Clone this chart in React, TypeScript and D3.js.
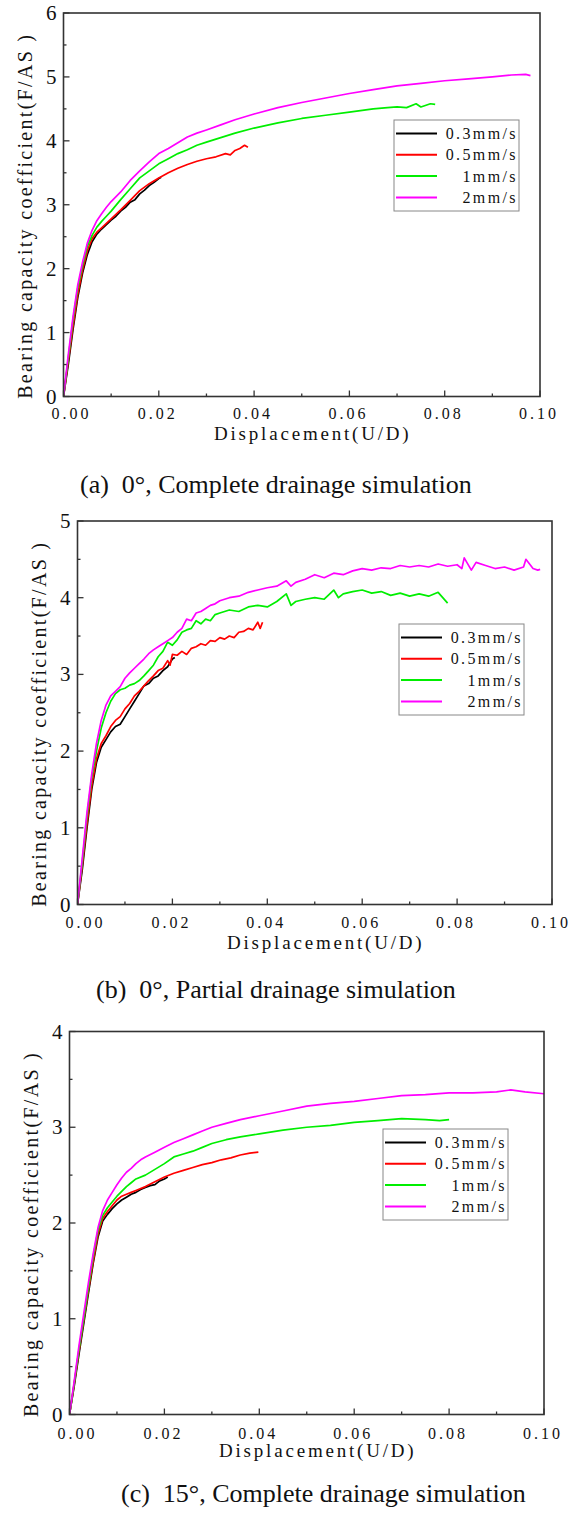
import React from "react";
import * as d3 from "d3";

type Pt = [number, number];

// ---------- Panel (a): 0°, complete drainage ----------
const a_03: Pt[] = [[0,0],[0.001,0.5],[0.002,1.05],[0.003,1.55],[0.004,1.93],[0.005,2.22],[0.006,2.42],[0.007,2.54],[0.008,2.62],[0.009,2.69],[0.010,2.76],[0.011,2.82],[0.012,2.9],[0.013,2.96],[0.014,3.04],[0.015,3.08],[0.016,3.17],[0.017,3.23],[0.018,3.3],[0.019,3.35],[0.020,3.41],[0.0205,3.43]];
const a_05: Pt[] = [[0,0],[0.001,0.55],[0.002,1.1],[0.003,1.6],[0.004,1.98],[0.005,2.28],[0.006,2.47],[0.007,2.57],[0.008,2.64],[0.009,2.71],[0.010,2.78],[0.012,2.92],[0.014,3.07],[0.016,3.22],[0.018,3.33],[0.020,3.42],[0.022,3.5],[0.024,3.57],[0.026,3.63],[0.028,3.68],[0.030,3.72],[0.032,3.75],[0.034,3.8],[0.035,3.78],[0.036,3.85],[0.037,3.88],[0.038,3.93],[0.0387,3.9]];
const a_1: Pt[] = [[0,0],[0.001,0.6],[0.002,1.2],[0.003,1.7],[0.004,2.05],[0.005,2.35],[0.006,2.52],[0.007,2.65],[0.008,2.74],[0.009,2.82],[0.010,2.9],[0.012,3.08],[0.014,3.25],[0.016,3.42],[0.018,3.53],[0.020,3.64],[0.022,3.72],[0.024,3.8],[0.026,3.86],[0.028,3.93],[0.030,3.98],[0.033,4.05],[0.036,4.12],[0.040,4.2],[0.045,4.28],[0.050,4.35],[0.055,4.4],[0.060,4.45],[0.065,4.5],[0.068,4.52],[0.070,4.53],[0.072,4.52],[0.074,4.58],[0.075,4.53],[0.077,4.58],[0.078,4.57]];
const a_2: Pt[] = [[0,0],[0.001,0.65],[0.002,1.25],[0.003,1.75],[0.004,2.1],[0.005,2.4],[0.006,2.6],[0.007,2.75],[0.008,2.86],[0.009,2.96],[0.010,3.05],[0.012,3.2],[0.014,3.38],[0.016,3.53],[0.018,3.67],[0.020,3.8],[0.022,3.88],[0.024,3.97],[0.026,4.06],[0.028,4.12],[0.030,4.17],[0.033,4.25],[0.036,4.33],[0.040,4.42],[0.045,4.52],[0.050,4.6],[0.055,4.67],[0.060,4.74],[0.065,4.8],[0.070,4.86],[0.075,4.9],[0.080,4.94],[0.085,4.97],[0.090,5.0],[0.094,5.03],[0.097,5.04],[0.098,5.02]];

// ---------- Panel (b): 0°, partial drainage ----------
const b_03: Pt[] = [[0,0],[0.001,0.45],[0.002,1.0],[0.003,1.5],[0.004,1.85],[0.005,2.05],[0.006,2.15],[0.007,2.25],[0.008,2.32],[0.009,2.35],[0.010,2.45],[0.011,2.55],[0.012,2.65],[0.013,2.75],[0.014,2.85],[0.015,2.88],[0.016,2.95],[0.017,2.98],[0.018,3.05],[0.019,3.1],[0.020,3.2],[0.0205,3.22]];
const b_05: Pt[] = [[0,0],[0.001,0.5],[0.002,1.05],[0.003,1.55],[0.004,1.9],[0.005,2.1],[0.006,2.2],[0.007,2.32],[0.008,2.4],[0.009,2.45],[0.010,2.55],[0.011,2.62],[0.012,2.72],[0.013,2.78],[0.014,2.85],[0.015,2.92],[0.016,2.98],[0.017,3.05],[0.018,3.08],[0.019,3.18],[0.0195,3.12],[0.020,3.26],[0.021,3.25],[0.022,3.3],[0.023,3.26],[0.024,3.34],[0.025,3.36],[0.026,3.4],[0.027,3.38],[0.028,3.44],[0.029,3.43],[0.030,3.48],[0.031,3.46],[0.032,3.5],[0.033,3.48],[0.034,3.55],[0.035,3.56],[0.036,3.6],[0.037,3.58],[0.038,3.68],[0.0385,3.6],[0.039,3.68]];
const b_1: Pt[] = [[0,0],[0.001,0.55],[0.002,1.15],[0.003,1.65],[0.004,2.0],[0.005,2.3],[0.006,2.5],[0.007,2.65],[0.008,2.75],[0.009,2.8],[0.010,2.82],[0.011,2.86],[0.012,2.88],[0.013,2.92],[0.014,2.98],[0.015,3.05],[0.016,3.12],[0.017,3.23],[0.018,3.3],[0.019,3.42],[0.020,3.38],[0.021,3.45],[0.022,3.55],[0.023,3.58],[0.024,3.6],[0.025,3.7],[0.026,3.66],[0.027,3.72],[0.028,3.7],[0.029,3.78],[0.030,3.8],[0.032,3.84],[0.034,3.82],[0.036,3.88],[0.038,3.9],[0.040,3.88],[0.042,3.95],[0.044,4.05],[0.045,3.9],[0.046,3.95],[0.048,3.98],[0.050,4.0],[0.052,3.98],[0.054,4.1],[0.055,4.0],[0.056,4.05],[0.058,4.08],[0.060,4.1],[0.062,4.06],[0.064,4.08],[0.066,4.03],[0.068,4.06],[0.070,4.02],[0.072,4.05],[0.074,4.02],[0.076,4.07],[0.078,3.93]];
const b_2: Pt[] = [[0,0],[0.001,0.6],[0.002,1.2],[0.003,1.7],[0.004,2.1],[0.005,2.4],[0.006,2.6],[0.007,2.72],[0.008,2.78],[0.009,2.84],[0.010,2.95],[0.011,3.02],[0.012,3.08],[0.013,3.14],[0.014,3.2],[0.015,3.27],[0.016,3.32],[0.017,3.36],[0.018,3.4],[0.019,3.44],[0.020,3.48],[0.021,3.55],[0.022,3.6],[0.023,3.72],[0.024,3.7],[0.025,3.8],[0.026,3.82],[0.027,3.86],[0.028,3.9],[0.029,3.92],[0.030,3.96],[0.032,4.0],[0.034,4.02],[0.036,4.07],[0.038,4.1],[0.040,4.13],[0.042,4.15],[0.044,4.22],[0.045,4.15],[0.046,4.2],[0.048,4.24],[0.050,4.3],[0.052,4.26],[0.054,4.32],[0.056,4.3],[0.058,4.35],[0.060,4.38],[0.062,4.36],[0.064,4.39],[0.066,4.38],[0.068,4.42],[0.070,4.4],[0.072,4.42],[0.074,4.4],[0.076,4.44],[0.078,4.41],[0.080,4.43],[0.081,4.38],[0.0815,4.52],[0.083,4.36],[0.084,4.46],[0.086,4.42],[0.088,4.38],[0.090,4.4],[0.092,4.36],[0.094,4.4],[0.0945,4.5],[0.096,4.38],[0.097,4.36],[0.0975,4.37]];

// ---------- Panel (c): 15°, complete drainage ----------
const c_03: Pt[] = [[0,0],[0.001,0.3],[0.002,0.63],[0.003,0.95],[0.004,1.27],[0.005,1.58],[0.006,1.85],[0.007,2.02],[0.008,2.09],[0.009,2.15],[0.010,2.2],[0.011,2.24],[0.012,2.27],[0.013,2.3],[0.014,2.32],[0.015,2.35],[0.016,2.37],[0.017,2.39],[0.018,2.4],[0.019,2.44],[0.020,2.46],[0.0207,2.48]];
const c_05: Pt[] = [[0,0],[0.001,0.32],[0.002,0.66],[0.003,0.98],[0.004,1.3],[0.005,1.6],[0.006,1.88],[0.007,2.05],[0.008,2.12],[0.009,2.18],[0.010,2.24],[0.011,2.28],[0.012,2.3],[0.013,2.32],[0.014,2.34],[0.016,2.38],[0.018,2.43],[0.020,2.48],[0.022,2.52],[0.024,2.55],[0.026,2.58],[0.028,2.61],[0.030,2.63],[0.032,2.66],[0.034,2.68],[0.036,2.71],[0.038,2.73],[0.0398,2.74]];
const c_1: Pt[] = [[0,0],[0.001,0.33],[0.002,0.68],[0.003,1.0],[0.004,1.33],[0.005,1.65],[0.006,1.92],[0.007,2.08],[0.008,2.16],[0.009,2.22],[0.010,2.28],[0.011,2.33],[0.012,2.38],[0.013,2.42],[0.014,2.46],[0.016,2.5],[0.018,2.56],[0.020,2.62],[0.022,2.69],[0.024,2.72],[0.026,2.75],[0.028,2.79],[0.030,2.83],[0.033,2.87],[0.036,2.9],[0.040,2.93],[0.045,2.97],[0.050,3.0],[0.055,3.02],[0.060,3.05],[0.065,3.07],[0.070,3.09],[0.075,3.08],[0.078,3.07],[0.080,3.08]];
const c_2: Pt[] = [[0,0],[0.001,0.35],[0.002,0.72],[0.003,1.05],[0.004,1.38],[0.005,1.68],[0.006,1.95],[0.007,2.13],[0.008,2.24],[0.009,2.32],[0.010,2.4],[0.011,2.47],[0.012,2.53],[0.013,2.57],[0.014,2.62],[0.015,2.66],[0.016,2.69],[0.018,2.74],[0.020,2.79],[0.022,2.84],[0.024,2.88],[0.026,2.92],[0.028,2.96],[0.030,3.0],[0.033,3.04],[0.036,3.08],[0.040,3.12],[0.045,3.17],[0.050,3.22],[0.055,3.25],[0.060,3.27],[0.065,3.3],[0.070,3.33],[0.075,3.34],[0.080,3.36],[0.085,3.36],[0.090,3.37],[0.093,3.39],[0.096,3.37],[0.100,3.35]];

const seriesNames = ["0.3mm/s", "0.5mm/s", "1mm/s", "2mm/s"];
const seriesColors = ["#000000", "#ff0000", "#00ee00", "#ff00ff"];
const xTicks = [0, 0.02, 0.04, 0.06, 0.08, 0.1];
const xMinor = [0.01, 0.03, 0.05, 0.07, 0.09];
const xTitle = "Displacement(U/D)";
const yTitle = "Bearing capacity coefficient(F/AS )";
const captions = [
  "(a)  0°, Complete drainage simulation",
  "(b)  0°, Partial drainage simulation",
  "(c)  15°, Complete drainage simulation",
];

interface PanelCfg {
  left: number; right: number; top: number; bottom: number; ymax: number;
  lx: number; ly: number; capX: number; capY: number; tickY: number; titleY: number;
  data: Pt[][]; caption: string;
}

const panels: PanelCfg[] = [
  { left: 63.5, right: 540, top: 13, bottom: 396.5, ymax: 6, lx: 394, ly: 120, capX: 80, capY: 493, tickY: 419, titleY: 440, data: [a_03, a_05, a_1, a_2], caption: captions[0] },
  { left: 77.5, right: 552, top: 521, bottom: 904.5, ymax: 5, lx: 399, ly: 624, capX: 96, capY: 998, tickY: 927.5, titleY: 949, data: [b_03, b_05, b_1, b_2], caption: captions[1] },
  { left: 69.5, right: 544, top: 1031.5, bottom: 1414.5, ymax: 4, lx: 383, ly: 1129, capX: 121, capY: 1502, tickY: 1439, titleY: 1457, data: [c_03, c_05, c_1, c_2], caption: captions[2] },
];

const FONT = "'Liberation Serif', 'Times New Roman', serif";

function Panel({ p }: { p: PanelCfg }) {
  const x = d3.scaleLinear().domain([0, 0.1]).range([p.left, p.right]);
  const y = d3.scaleLinear().domain([0, p.ymax]).range([p.bottom, p.top]);
  const line = d3.line<Pt>().x(d => x(d[0])).y(d => y(d[1]));
  const yMajor = d3.range(0, p.ymax + 0.001, 1);
  const yMinor = d3.range(0.5, p.ymax, 1);
  const axisColor = "#333";
  const cx = (p.left + p.right) / 2;
  const cy = (p.top + p.bottom) / 2;
  const legW = 125, legH = 91, rowH = 21.3;
  return (
    <g>
      <defs>
        <clipPath id={`clip${p.top}`}>
          <rect x={p.left} y={p.top} width={p.right - p.left} height={p.bottom - p.top} />
        </clipPath>
      </defs>
      <g clipPath={`url(#clip${p.top})`}>
        {p.data.map((s, i) => (
          <path key={i} d={line(s) || ""} fill="none" stroke={seriesColors[i]} strokeWidth={1.7} strokeLinejoin="round" />
        ))}
      </g>
      <rect x={p.left} y={p.top} width={p.right - p.left} height={p.bottom - p.top} fill="none" stroke={axisColor} strokeWidth={1.6} />
      {xTicks.map((t, i) => (
        <g key={`xt${i}`}>
          <line x1={x(t)} x2={x(t)} y1={p.bottom} y2={p.bottom - 6} stroke={axisColor} strokeWidth={1.3} />
          <text x={x(t) + (i === 0 ? 8 : -1)} y={p.tickY} textAnchor="middle" fontFamily={FONT} fontSize={16} letterSpacing={3} fill="#111">{t.toFixed(2)}</text>
        </g>
      ))}
      {xMinor.map((t, i) => (
        <line key={`xm${i}`} x1={x(t)} x2={x(t)} y1={p.bottom} y2={p.bottom - 3} stroke={axisColor} strokeWidth={1.3} />
      ))}
      {yMajor.map((t, i) => (
        <g key={`yt${i}`}>
          <line x1={p.left} x2={p.left + 6} y1={y(t)} y2={y(t)} stroke={axisColor} strokeWidth={1.3} />
          <text x={p.left - 7} y={y(t) + 7} textAnchor="end" fontFamily={FONT} fontSize={21} fill="#111">{t}</text>
        </g>
      ))}
      {yMinor.map((t, i) => (
        <line key={`ym${i}`} x1={p.left} x2={p.left + 3} y1={y(t)} y2={y(t)} stroke={axisColor} strokeWidth={1.3} />
      ))}
      <text x={cx + 11} y={p.titleY} textAnchor="middle" fontFamily={FONT} fontSize={19} letterSpacing={2.8} fill="#111">{xTitle}</text>
      <text transform={`translate(${p.left - 32},${cy + 11}) rotate(-90)`} textAnchor="middle" fontFamily={FONT} fontSize={20} letterSpacing={2.3} fill="#111">{yTitle}</text>
      <g>
        <rect x={p.lx} y={p.ly} width={legW} height={legH} fill="#fff" stroke="#888" strokeWidth={1} />
        {seriesNames.map((n, i) => {
          const ry = p.ly + 13.5 + i * rowH;
          return (
            <g key={n}>
              <line x1={p.lx + 2} x2={p.lx + 43} y1={ry} y2={ry} stroke={seriesColors[i]} strokeWidth={2} />
              <text x={p.lx + legW - 1} y={ry + 5.5} textAnchor="end" fontFamily={FONT} fontSize={16} letterSpacing={2.4} fill="#111">{n}</text>
            </g>
          );
        })}
      </g>
      <text x={p.capX} y={p.capY} fontFamily={FONT} fontSize={26} fill="#111" style={{ whiteSpace: "pre" }}>{p.caption}</text>
    </g>
  );
}

export default function App() {
  return (
    <svg width={577} height={1514} style={{ position: "absolute", left: 0, top: 0, background: "#fff" }}>
      <rect x={0} y={0} width={577} height={1514} fill="#fff" />
      {panels.map((p, i) => <Panel key={i} p={p} />)}
    </svg>
  );
}
